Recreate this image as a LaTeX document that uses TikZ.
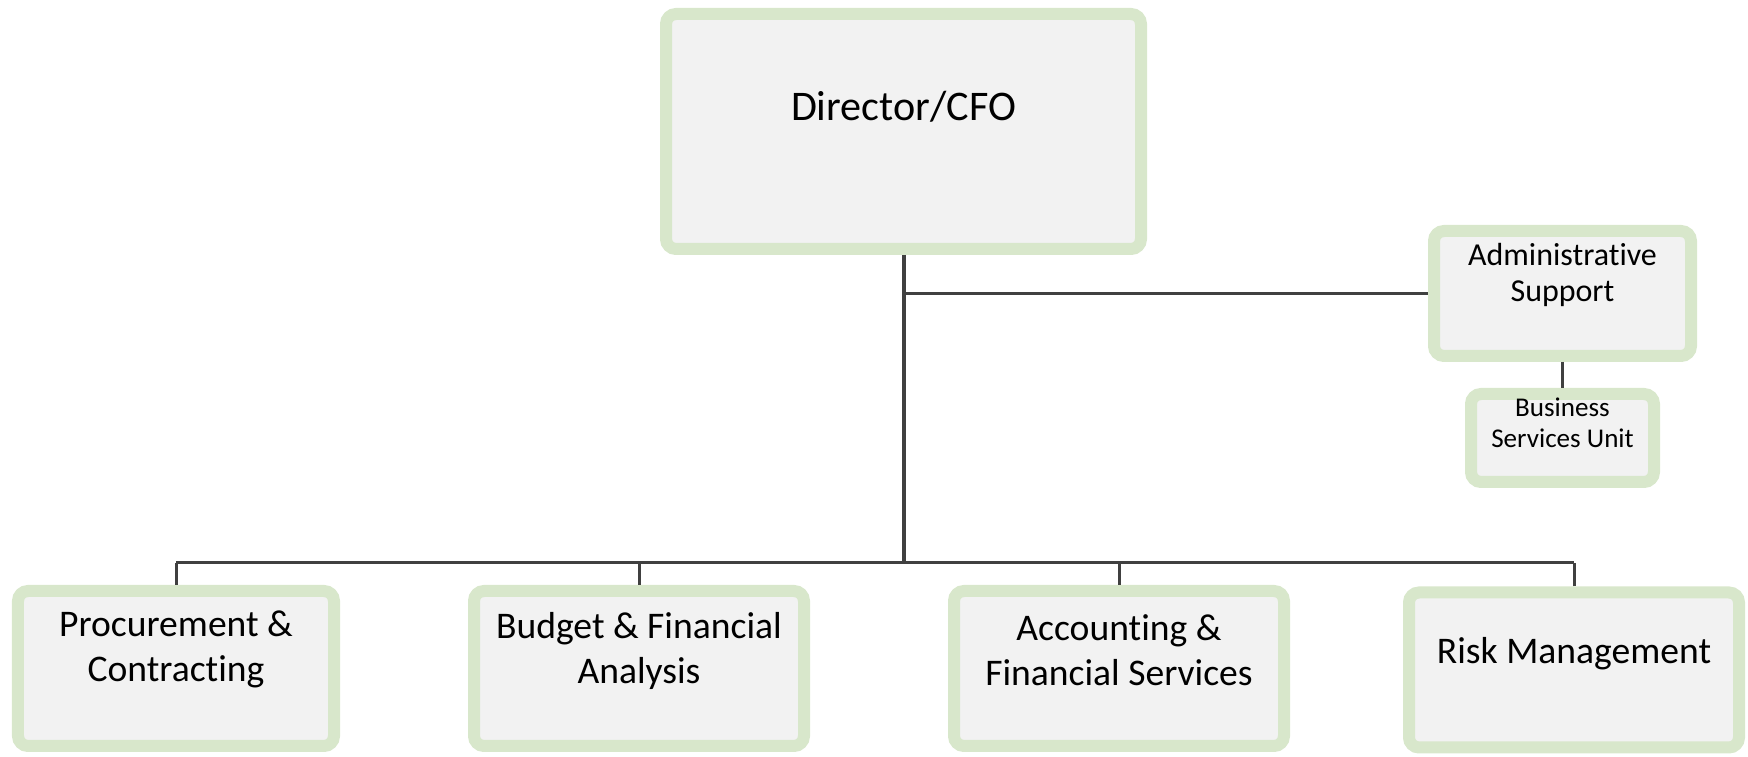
\documentclass[tikz,border=0pt]{standalone}
\usepackage{fontspec}
\setmainfont{Carlito}[Ligatures=NoCommon]
\usetikzlibrary{shadows}

\definecolor{bandgreen}{RGB}{216,231,203}
\definecolor{rimgreen}{RGB}{170,205,135}
\definecolor{cellgray}{RGB}{242,242,242}
\definecolor{linegray}{RGB}{64,64,64}
\definecolor{rimcyan}{RGB}{140,228,210}

\newcommand{\headfont}{\fontsize{12}{15}\selectfont}
\newcommand{\unitfont}{\fontsize{10.7}{12.8}\selectfont}
\newcommand{\adminfont}{\fontsize{9.1}{10.2}\selectfont}
\newcommand{\smallunitfont}{\fontsize{7.7}{8.8}\selectfont}

\tikzset{
  unit/.style={draw=bandgreen, line width=0.12cm, fill=cellgray, rounded corners=0.1cm,
    drop shadow={shadow xshift=0.025cm, shadow yshift=-0.025cm, fill=rimgreen, opacity=0.5}},
  trunk/.style={draw=linegray, line width=0.04cm},
  branch/.style={draw=linegray, line width=0.03cm}
}

\begin{document}
\begin{tikzpicture}
    \useasboundingbox (0,0) rectangle (17.48,-7.57);

    % top of the chart
    \node[unit, minimum width=4.75cm, minimum height=2.35cm,
      label={[font=\headfont, yshift=0.245cm]center:Director/CFO}]
      (director) at (9.035,-1.315) {};

    % staff line on the right
    \node[unit, minimum width=2.57cm, minimum height=1.25cm,
      label={[font=\adminfont, align=center, yshift=0.185cm]center:Administrative\\Support}]
      (admin) at (15.625,-2.935) {};
    \node[unit, minimum width=1.83cm, minimum height=0.88cm,
      drop shadow={shadow xshift=0.025cm, shadow yshift=-0.025cm, fill=rimcyan, opacity=0.7},
      label={[font=\smallunitfont, align=center, yshift=0.155cm]center:Business\\Services Unit}]
      (business) at (15.625,-4.38) {};

    % divisions
    \node[unit, minimum width=3.16cm, minimum height=1.55cm,
      label={[font=\unitfont, align=center, yshift=0.19cm]center:Procurement \&\\Contracting}]
      (procurement) at (1.76,-6.685) {};
    \node[unit, minimum width=3.30cm, minimum height=1.55cm,
      label={[font=\unitfont, align=center, yshift=0.18cm]center:Budget \& Financial\\Analysis}]
      (budget) at (6.39,-6.685) {};
    \node[unit, minimum width=3.30cm, minimum height=1.55cm,
      label={[font=\unitfont, align=center, yshift=0.18cm]center:Accounting \&\\Financial Services}]
      (accounting) at (11.19,-6.685) {};
    \node[unit, minimum width=3.30cm, minimum height=1.55cm,
      label={[font=\unitfont, yshift=0.165cm]center:Risk Management}]
      (risk) at (15.74,-6.70) {};

    \coordinate (bus) at (9.03,-5.63);

    \draw[trunk] (director.south) -- (director.south |- bus);
    \draw[branch] (admin.west) -- (admin.west -| director.south);
    \draw[branch] (admin.south) -- (business.north);
    \draw[branch] (procurement.north |- bus) -- (risk.north |- bus);
    \foreach \unitname in {procurement,budget,accounting,risk}
      \draw[branch] (\unitname.north) -- (\unitname.north |- bus);
  \end{tikzpicture}
\end{document}
